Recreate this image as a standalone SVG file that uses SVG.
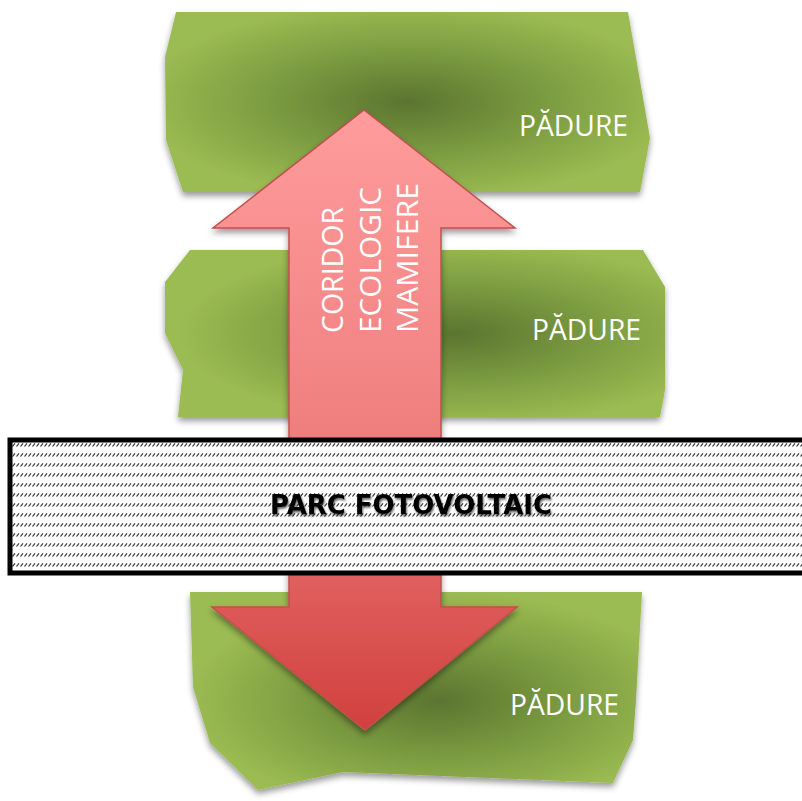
<svg xmlns="http://www.w3.org/2000/svg" width="802" height="801" viewBox="0 0 802 801">
<style>
.forest{filter:url(#sh)}
.lbl{font-family:"Open Sans","DejaVu Sans",sans-serif;font-size:29px;fill:#fff}
.arr{font-family:"Open Sans","DejaVu Sans",sans-serif;font-size:29px;fill:#fff}
.pv{font-family:"DejaVu Sans",sans-serif;font-weight:bold;font-size:27px;fill:#000}
</style>
<defs>
<radialGradient id="g" cx="0.5" cy="0.5" r="0.55">
<stop offset="0" stop-color="#5b7530"/>
<stop offset="0.5" stop-color="#7a9a40"/>
<stop offset="1" stop-color="#9bbb52"/>
</radialGradient>
<radialGradient id="g2" href="#g" cx="0.58" cy="0.5"/>
<radialGradient id="g3" href="#g" cx="0.55" cy="0.55"/>
<linearGradient id="ag" x1="0" y1="110" x2="0" y2="730" gradientUnits="userSpaceOnUse">
<stop offset="0" stop-color="#ff9c9c"/>
<stop offset="0.5" stop-color="#f08080"/>
<stop offset="1" stop-color="#d0403d"/>
</linearGradient>
<filter id="sh" x="-10%" y="-10%" width="120%" height="130%">
<feDropShadow dx="0" dy="4" stdDeviation="3" flood-color="#000" flood-opacity="0.4"/>
</filter>
<filter id="tsh" x="-10%" y="-30%" width="120%" height="160%">
<feDropShadow dx="1" dy="2" stdDeviation="1" flood-color="#000" flood-opacity="0.6"/>
</filter>
<pattern id="hatch" width="4" height="10" patternUnits="userSpaceOnUse" x="12" y="438">
<rect width="4" height="10" fill="#fff"/>
<line x1="0.5" y1="8.5" x2="3" y2="5.3" stroke="#333" stroke-width="1.2"/>
</pattern>
</defs>
<g id="forest-top">
<polygon class="forest" fill="url(#g)" points="176,12 628,12 650,138 640,192 183,192 166,140 165,57"/>
<text class="lbl" x="519" y="136" textLength="109" lengthAdjust="spacingAndGlyphs">PĂDURE</text>
</g>
<g id="forest-middle">
<polygon class="forest" fill="url(#g2)" points="190,250 643,250 665,287 665,390 660,417 178,417 183,370 165,333 165,282"/>
<text class="lbl" x="532" y="340" textLength="109" lengthAdjust="spacingAndGlyphs">PĂDURE</text>
</g>
<g id="forest-bottom">
<polygon class="forest" fill="url(#g3)" points="190,592 642,592 636,700 633,740 613,783 343,772 258,790 210,743 193,687"/>
<text class="lbl" x="510" y="715" textLength="109" lengthAdjust="spacingAndGlyphs">PĂDURE</text>
</g>
<g id="corridor">
<path d="M364,110 L515,228 L441,228 L441,607 L517,607 L365,730 L212,607 L289,607 L289,228 L213,228 Z" fill="url(#ag)" stroke="#c0504d" stroke-width="1.5" filter="url(#sh)"/>
<g class="arr">
<text transform="translate(343,333) rotate(-90)" textLength="126" lengthAdjust="spacingAndGlyphs">CORIDOR</text>
<text transform="translate(381,333) rotate(-90)" textLength="146" lengthAdjust="spacingAndGlyphs">ECOLOGIC</text>
<text transform="translate(418,333) rotate(-90)" textLength="150" lengthAdjust="spacingAndGlyphs">MAMIFERE</text>
</g>
</g>
<g id="parc">
<rect x="10" y="440" width="800" height="133" fill="url(#hatch)" stroke="#000" stroke-width="5"/>
<text class="pv" x="411" y="514" text-anchor="middle" textLength="282" lengthAdjust="spacingAndGlyphs" filter="url(#tsh)">PARC FOTOVOLTAIC</text>
</g>
</svg>
